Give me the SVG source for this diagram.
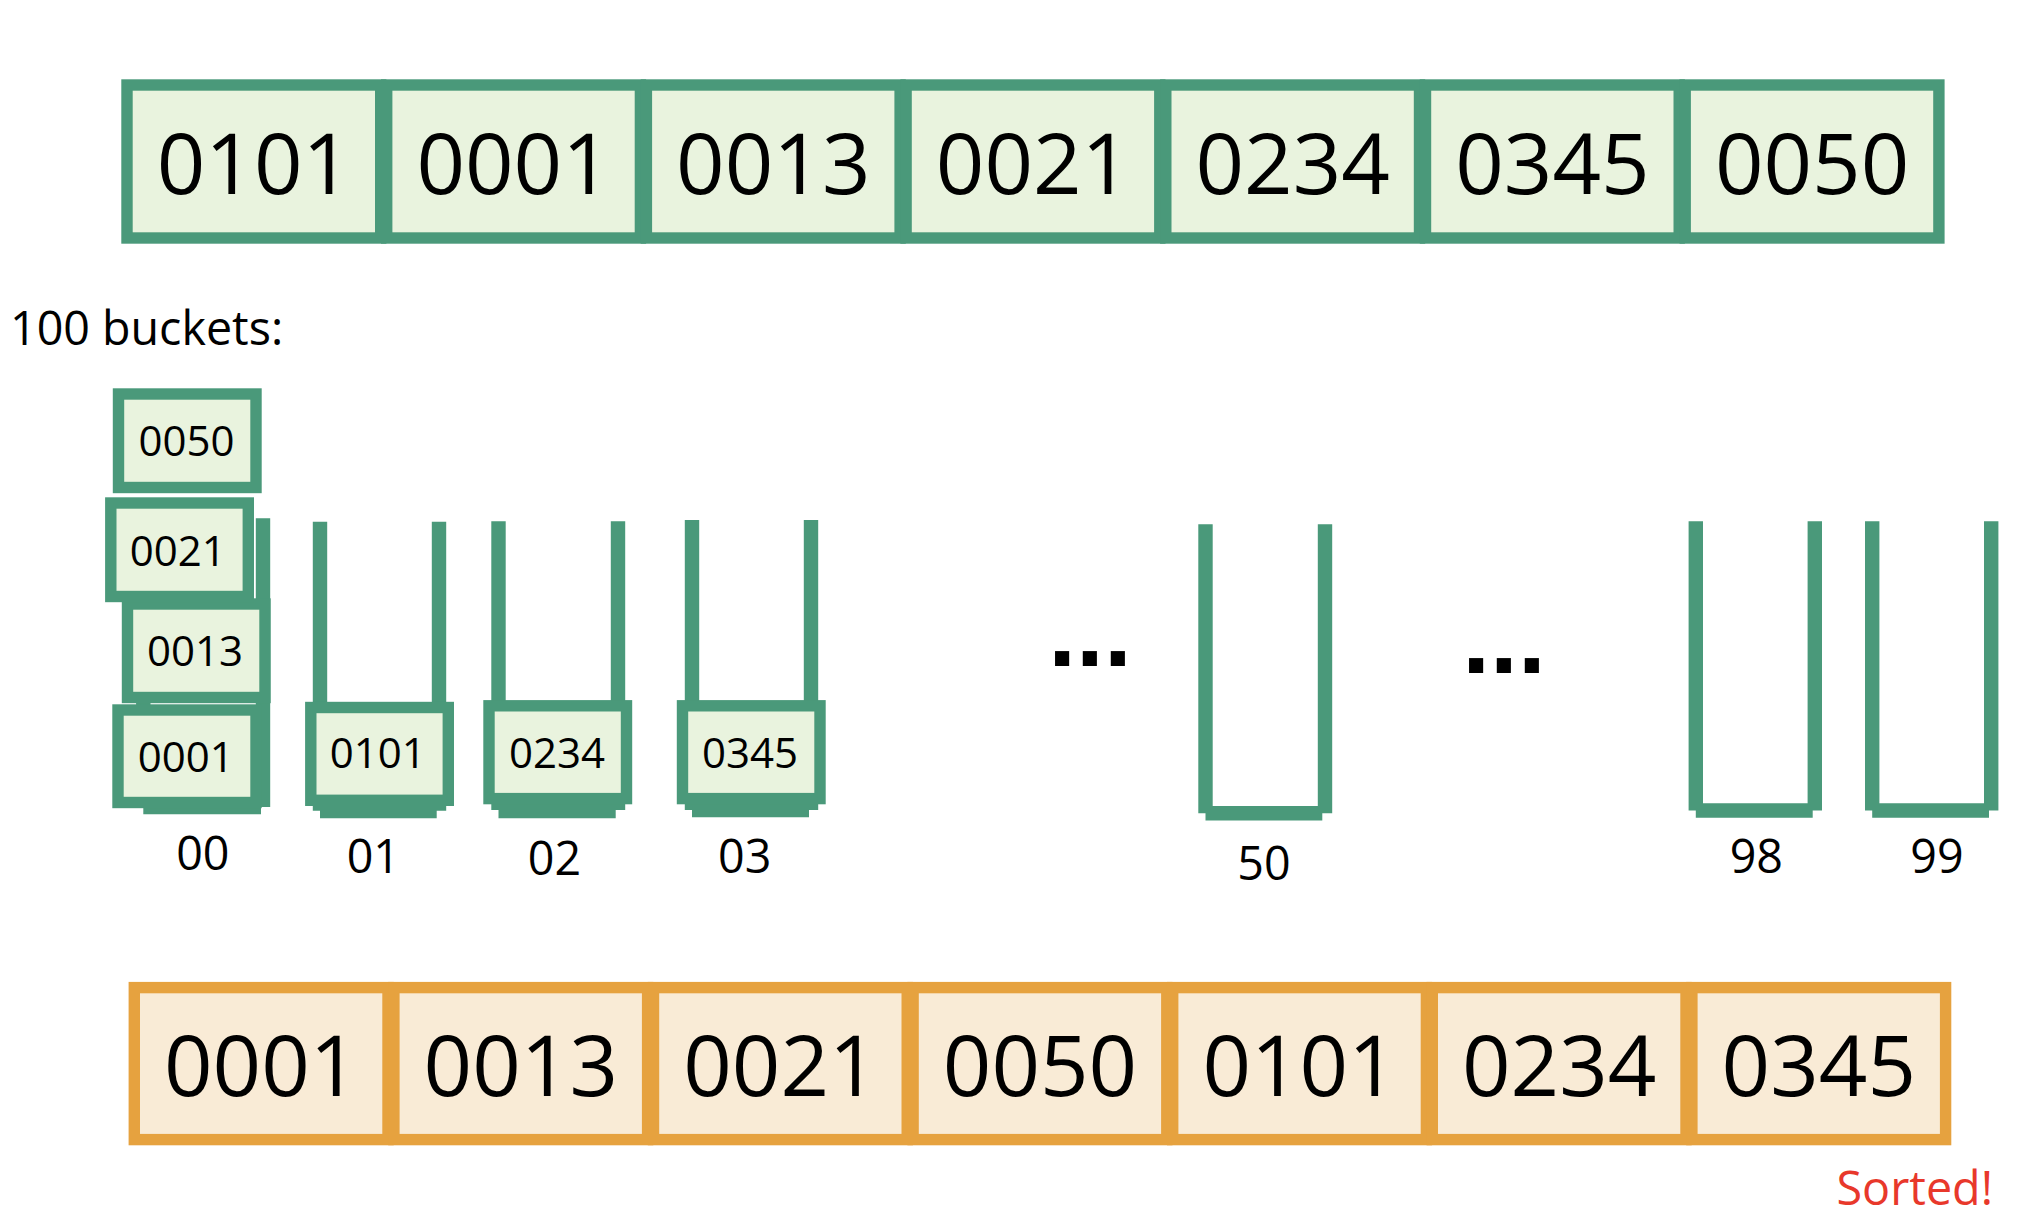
<svg xmlns="http://www.w3.org/2000/svg" width="2026" height="1220" viewBox="0 0 2026 1220">
<style>
.gc{fill:#E9F3DE;stroke:#4A997A;stroke-width:11.4}
.oc{fill:#F9EBD6;stroke:#E6A23F;stroke-width:11.4}
.bk{fill:none;stroke:#4A997A;stroke-width:14.4;stroke-linecap:butt}
.big{font-family:"Open Sans","Noto Sans",sans-serif;font-size:85px;fill:#000;text-anchor:middle}
.sm{font-family:"Open Sans","Noto Sans",sans-serif;font-size:42px;fill:#000;text-anchor:middle}
.lbl{font-family:"Open Sans","Noto Sans",sans-serif;font-size:46.6px;fill:#000;text-anchor:middle}
.dots{font-family:"Liberation Sans",Arial,sans-serif;font-weight:bold;font-size:100px;fill:#000;text-anchor:middle}
</style>
<rect width="2026" height="1220" fill="#fff"/>

<g id="input-array">
  <g id="in-0"><rect class="gc" x="127" y="85" width="253.7" height="153"/><text class="big" x="253.9" y="194">0101</text></g>
  <g id="in-1"><rect class="gc" x="386.7" y="85" width="253.7" height="153"/><text class="big" x="513.6" y="194">0001</text></g>
  <g id="in-2"><rect class="gc" x="646.4" y="85" width="253.7" height="153"/><text class="big" x="773.3" y="194">0013</text></g>
  <g id="in-3"><rect class="gc" x="906.1" y="85" width="253.7" height="153"/><text class="big" x="1033" y="194">0021</text></g>
  <g id="in-4"><rect class="gc" x="1165.8" y="85" width="253.7" height="153"/><text class="big" x="1292.7" y="194">0234</text></g>
  <g id="in-5"><rect class="gc" x="1425.5" y="85" width="253.7" height="153"/><text class="big" x="1552.4" y="194">0345</text></g>
  <g id="in-6"><rect class="gc" x="1685.2" y="85" width="253.7" height="153"/><text class="big" x="1812.1" y="194">0050</text></g>
</g>

<text id="buckets-title" x="10" y="345" font-family="'Open Sans','Noto Sans',sans-serif" font-size="46.6" fill="#000">100 buckets:</text>

<g id="bucket-00">
  <path class="bk" d="M143.3,518.3V807 M143.3,807H261 M263,518.3V807"/>
  <g id="b00-0001"><rect class="gc" x="118" y="710" width="138" height="92.5"/><text class="sm" x="185.7" y="771.7">0001</text></g>
  <g id="b00-0013"><rect class="gc" x="127.5" y="604" width="137.5" height="93.5"/><text class="sm" x="195" y="666">0013</text></g>
  <g id="b00-0021"><rect class="gc" x="110.8" y="503" width="137.5" height="93.5"/><text class="sm" x="177.7" y="566">0021</text></g>
  <g id="b00-0050"><rect class="gc" x="118.5" y="394" width="137.5" height="93.5"/><text class="sm" x="186.5" y="456">0050</text></g>
  <text class="lbl" x="202.8" y="870">00</text>
</g>

<g id="bucket-01">
  <path class="bk" d="M320,521.7V810.7 M320,811H436.7 M439,521.7V810.7"/>
  <g id="b01-0101"><rect class="gc" x="310.8" y="707.5" width="137.5" height="92.8"/><text class="sm" x="377.7" y="768.3">0101</text></g>
  <text class="lbl" x="373.3" y="873.3">01</text>
</g>

<g id="bucket-02">
  <path class="bk" d="M498.5,521.3V810 M498.5,811H615.7 M618,521.3V810"/>
  <g id="b02-0234"><rect class="gc" x="489" y="705.8" width="137.5" height="92.8"/><text class="sm" x="557" y="767.7">0234</text></g>
  <text class="lbl" x="554.5" y="875">02</text>
</g>

<g id="bucket-03">
  <path class="bk" d="M692,520V810 M692,810H809 M811,520V810"/>
  <g id="b03-0345"><rect class="gc" x="682.5" y="705.8" width="137.5" height="92.8"/><text class="sm" x="750" y="767.7">0345</text></g>
  <text class="lbl" x="744.7" y="873.3">03</text>
</g>

<text id="dots-1" class="dots" x="1090" y="665.7">...</text>

<g id="bucket-50">
  <path class="bk" d="M1205.5,524.3V813.3 M1205.5,813.3H1322.3 M1325,524.3V813.3"/>
  <text class="lbl" x="1264" y="880">50</text>
</g>

<text id="dots-2" class="dots" x="1504" y="672.7">...</text>

<g id="bucket-98">
  <path class="bk" d="M1695.8,521.3V810.5 M1695.8,810.5H1812.7 M1814.8,521.3V810.5"/>
  <text class="lbl" x="1756.3" y="873.3">98</text>
</g>

<g id="bucket-99">
  <path class="bk" d="M1872.2,521.3V810.5 M1872.2,810.5H1989 M1991.2,521.3V810.5"/>
  <text class="lbl" x="1937" y="873.3">99</text>
</g>

<g id="output-array">
  <g id="out-0"><rect class="oc" x="134.3" y="987.6" width="253.7" height="152"/><text class="big" x="261.2" y="1096">0001</text></g>
  <g id="out-1"><rect class="oc" x="393.9" y="987.6" width="253.7" height="152"/><text class="big" x="520.8" y="1096">0013</text></g>
  <g id="out-2"><rect class="oc" x="653.5" y="987.6" width="253.7" height="152"/><text class="big" x="780.4" y="1096">0021</text></g>
  <g id="out-3"><rect class="oc" x="913.1" y="987.6" width="253.7" height="152"/><text class="big" x="1040" y="1096">0050</text></g>
  <g id="out-4"><rect class="oc" x="1172.7" y="987.6" width="253.7" height="152"/><text class="big" x="1299.6" y="1096">0101</text></g>
  <g id="out-5"><rect class="oc" x="1432.3" y="987.6" width="253.7" height="152"/><text class="big" x="1559.2" y="1096">0234</text></g>
  <g id="out-6"><rect class="oc" x="1691.9" y="987.6" width="253.7" height="152"/><text class="big" x="1818.8" y="1096">0345</text></g>
</g>

<g id="connectors"></g>

<text id="sorted" x="1993" y="1205" font-family="'Open Sans','Noto Sans',sans-serif" font-size="46.7" fill="#E8382B" text-anchor="end">Sorted!</text>
</svg>
